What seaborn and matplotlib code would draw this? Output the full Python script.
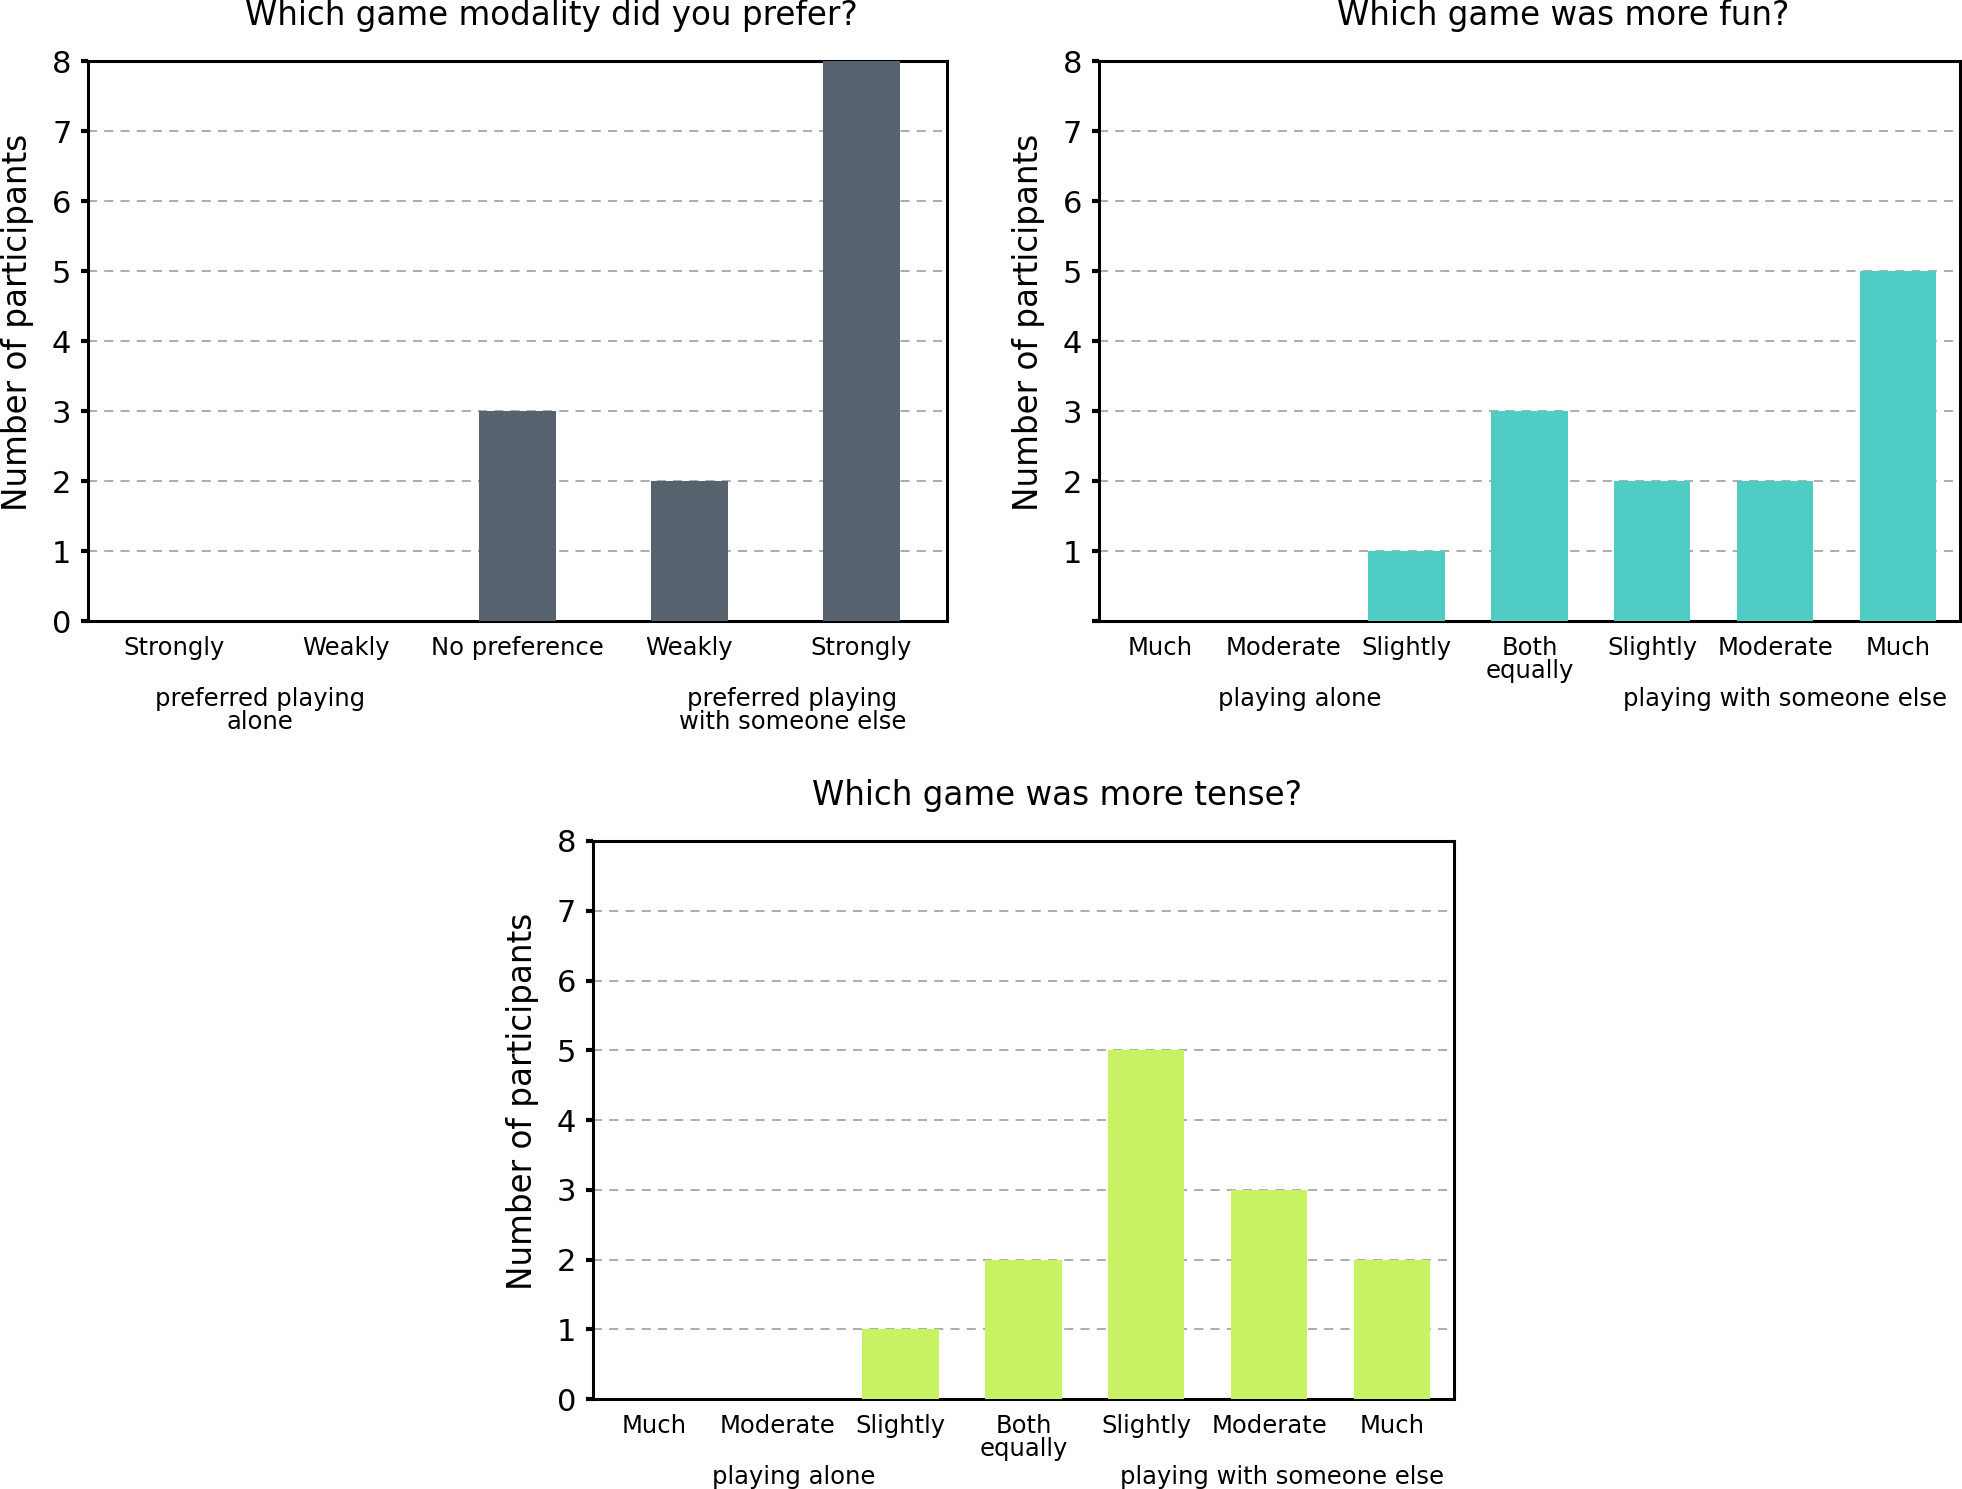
import seaborn as sns
import matplotlib.pyplot as plt
import matplotlib.transforms as mtransforms

# --- Data ---
modality_labels = ['Strongly', 'Weakly', 'No preference', 'Weakly', 'Strongly']
modality_counts = [0, 0, 3, 2, 8]

scale_labels = ['Much', 'Moderate', 'Slightly', 'Both\nequally', 'Slightly', 'Moderate', 'Much']
fun_counts = [0, 0, 1, 3, 2, 2, 5]
tense_counts = [0, 0, 1, 2, 5, 3, 2]

modality_groups = ['preferred playing\nalone', 'preferred playing\nwith someone else']
scale_groups = ['playing alone', 'playing with someone else']

# --- Style ---
sns.set_style('white')
plt.rcParams['font.family'] = ['DejaVu Sans']
plt.rcParams['text.color'] = 'black'
plt.rcParams['axes.labelcolor'] = 'black'
plt.rcParams['xtick.color'] = 'black'
plt.rcParams['ytick.color'] = 'black'

fig = plt.figure(figsize=(19.62, 14.89), dpi=100)
ax1 = fig.add_axes([0.0449, 0.5829, 0.4378, 0.3761])
ax2 = fig.add_axes([0.5601, 0.5829, 0.4388, 0.3761])
ax3 = fig.add_axes([0.3022, 0.0604, 0.4388, 0.3748])


def draw_panel(ax, labels, counts, color, width, title, groups, group_x, show_zero=True):
    sns.barplot(x=list(range(len(counts))), y=counts, color=color, saturation=1,
                width=width, ax=ax, zorder=3, edgecolor='none', linewidth=0)
    ax.set_xlim(-0.5, len(counts) - 0.5)
    ax.set_ylim(0, 8)
    ax.set_yticks(range(9))
    ylabels = [str(i) for i in range(9)]
    if not show_zero:
        ylabels[0] = ''
    ax.set_yticklabels(ylabels, fontsize=22)
    ax.set_xticks(range(len(labels)))
    ax.set_xticklabels(labels, fontsize=17.5, linespacing=0.95)
    ax.tick_params(axis='x', length=0, pad=11)
    ax.tick_params(axis='y', length=5, width=3, pad=7, left=True, color='black')
    for s in ax.spines.values():
        s.set_visible(True)
        s.set_color('black')
        s.set_linewidth(2.2)
    ax.yaxis.grid(True, linestyle=(0, (5, 4)), color='#a6a6a6', linewidth=1.3, zorder=0)
    ax.set_axisbelow(True)
    ax.set_ylabel('Number of participants', fontsize=23.5)
    ax.yaxis.set_label_coords(-0.063, 0.533)
    ax.set_xlabel('')
    ax.set_title(title, fontsize=23.5, x=0.539, pad=26)
    trans = mtransforms.blended_transform_factory(ax.transData, ax.transAxes)
    for gx, g in zip(group_x, groups):
        ax.text(gx, -0.118, g, transform=trans, ha='center', va='top',
                fontsize=17.5, linespacing=0.95)


draw_panel(ax1, modality_labels, modality_counts, '#56636F', 0.45,
           'Which game modality did you prefer?', modality_groups, [0.5, 3.6])
draw_panel(ax2, scale_labels, fun_counts, '#4FCDC4', 0.62,
           'Which game was more fun?', scale_groups, [1.13, 5.08], show_zero=False)
draw_panel(ax3, scale_labels, tense_counts, '#C7F264', 0.62,
           'Which game was more tense?', scale_groups, [1.13, 5.1])

fig.savefig('out.png', dpi=100)
